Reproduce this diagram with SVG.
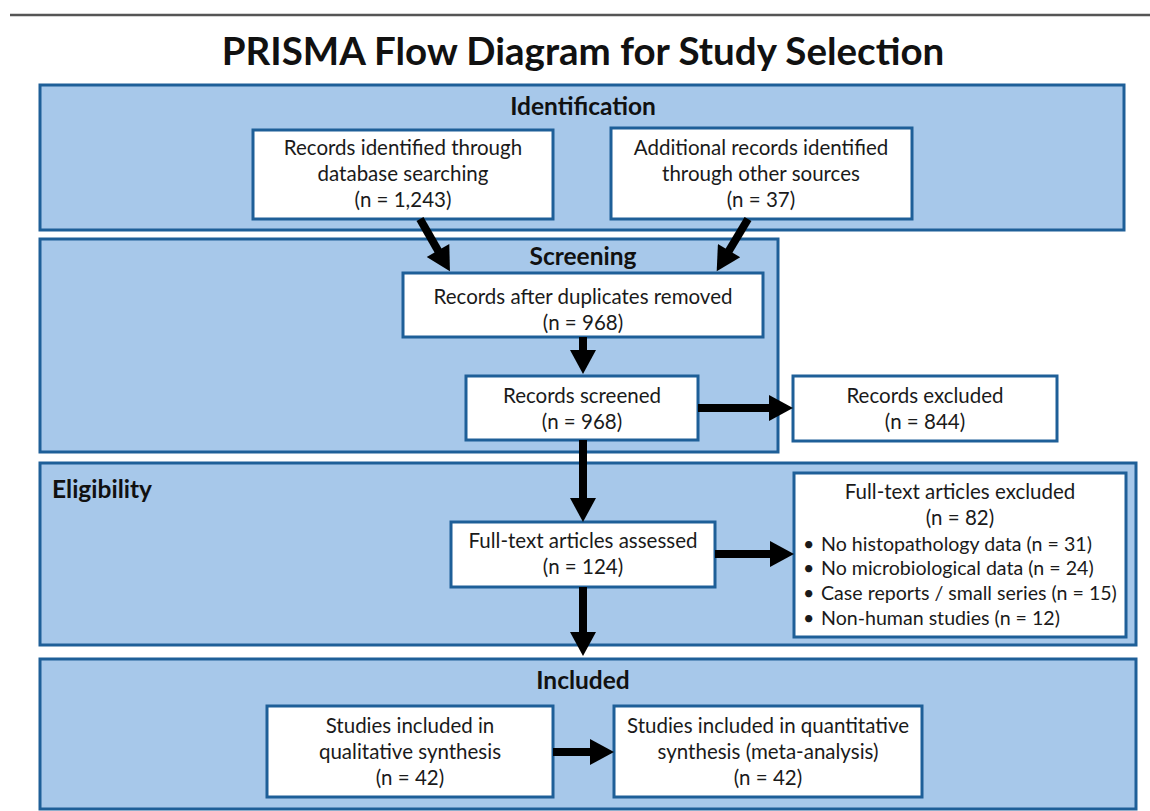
<svg xmlns="http://www.w3.org/2000/svg" width="1150" height="811" viewBox="0 0 1150 811">
<defs>
<marker id="ah" markerUnits="userSpaceOnUse" markerWidth="26" markerHeight="26" viewBox="0 0 24 26" refX="4" refY="13" orient="auto">
<path d="M0,0 L24,13 L0,26 z" fill="#000"/>
</marker>
<style>
.sec{fill:#a7c8ea;stroke:#1e5f98;stroke-width:3}
.box{fill:#fff;stroke:#1e5f98;stroke-width:3}
.t{font-family:Lato,"Liberation Sans",sans-serif;font-size:20.5px;fill:#1a1a1a;text-anchor:middle}
.tl{font-family:Lato,"Liberation Sans",sans-serif;font-size:19.6px;fill:#1a1a1a}
.h{font-family:Lato,"Liberation Sans",sans-serif;font-size:24.5px;font-weight:bold;fill:#111;text-anchor:middle}
.title{font-family:Lato,"Liberation Sans",sans-serif;font-size:38.5px;font-weight:bold;fill:#111;text-anchor:middle}
.arr{stroke:#000;stroke-width:8;fill:none;marker-end:url(#ah)}
</style>
</defs>
<rect width="1150" height="811" fill="#fff"/>
<line x1="10" y1="15" x2="1150" y2="15" stroke="#555" stroke-width="2.5"/>
<text class="title" x="583" y="65">PRISMA Flow Diagram for Study Selection</text>

<g id="sec-identification">
<rect class="sec" x="40" y="85" width="1084" height="145"/>
<text class="h" x="583" y="115">Identification</text>
</g>
<g id="sec-screening">
<rect class="sec" x="40" y="239" width="738" height="213"/>
<text class="h" x="583" y="265">Screening</text>
</g>
<g id="sec-eligibility">
<rect class="sec" x="40" y="463" width="1096" height="182"/>
<text class="h" x="52" y="498" style="text-anchor:start">Eligibility</text>
</g>
<g id="sec-included">
<rect class="sec" x="40" y="659" width="1096" height="150"/>
<text class="h" x="583" y="689">Included</text>
</g>

<g id="n-db">
<rect class="box" x="253" y="130" width="300" height="89"/>
<text class="t" x="403" y="155">Records identified through</text>
<text class="t" x="403" y="181">database searching</text>
<text class="t" x="403" y="207">(n = 1,243)</text>
</g>
<g id="n-other">
<rect class="box" x="611" y="128" width="301" height="91"/>
<text class="t" x="761" y="155">Additional records identified</text>
<text class="t" x="761" y="181">through other sources</text>
<text class="t" x="761" y="207">(n = 37)</text>
</g>
<g id="n-dup">
<rect class="box" x="403" y="273" width="360" height="64"/>
<text class="t" x="583" y="304">Records after duplicates removed</text>
<text class="t" x="583" y="330">(n = 968)</text>
</g>
<g id="n-screened">
<rect class="box" x="466" y="376" width="232" height="64"/>
<text class="t" x="582" y="403">Records screened</text>
<text class="t" x="582" y="429">(n = 968)</text>
</g>
<g id="n-excl">
<rect class="box" x="793" y="376" width="264" height="65"/>
<text class="t" x="925" y="403">Records excluded</text>
<text class="t" x="925" y="429">(n = 844)</text>
</g>
<g id="n-fulltext">
<rect class="box" x="451" y="522" width="264" height="65"/>
<text class="t" x="583" y="548">Full-text articles assessed</text>
<text class="t" x="583" y="574">(n = 124)</text>
</g>
<g id="n-ftexcl">
<rect class="box" x="794" y="473" width="332" height="164"/>
<text class="t" x="960" y="499">Full-text articles excluded</text>
<text class="t" x="960" y="525">(n = 82)</text>
<text class="tl" x="803" y="551">•</text><text class="tl" x="821" y="551">No histopathology data (n = 31)</text>
<text class="tl" x="803" y="575">•</text><text class="tl" x="821" y="575">No microbiological data (n = 24)</text>
<text class="tl" x="803" y="600">•</text><text class="tl" x="821" y="600">Case reports / small series (n = 15)</text>
<text class="tl" x="803" y="625">•</text><text class="tl" x="821" y="625">Non-human studies (n = 12)</text>
</g>
<g id="n-qual">
<rect class="box" x="267" y="706" width="286" height="91"/>
<text class="t" x="410" y="733">Studies included in</text>
<text class="t" x="410" y="759">qualitative synthesis</text>
<text class="t" x="410" y="785">(n = 42)</text>
</g>
<g id="n-quant">
<rect class="box" x="614" y="706" width="308" height="91"/>
<text class="t" x="768" y="733">Studies included in quantitative</text>
<text class="t" x="768" y="759">synthesis (meta-analysis)</text>
<text class="t" x="768" y="785">(n = 42)</text>
</g>

<g id="connectors">
<line class="arr" x1="420" y1="219" x2="440" y2="254"/>
<line class="arr" x1="748" y1="219" x2="727" y2="254"/>
<line class="arr" x1="583" y1="337" x2="583" y2="354"/>
<line class="arr" x1="698" y1="408" x2="773" y2="408"/>
<line class="arr" x1="583" y1="440" x2="583" y2="502"/>
<line class="arr" x1="715" y1="554" x2="774" y2="554"/>
<line class="arr" x1="583" y1="587" x2="583" y2="636"/>
<line class="arr" x1="553" y1="752" x2="594" y2="752"/>
</g>
</svg>
